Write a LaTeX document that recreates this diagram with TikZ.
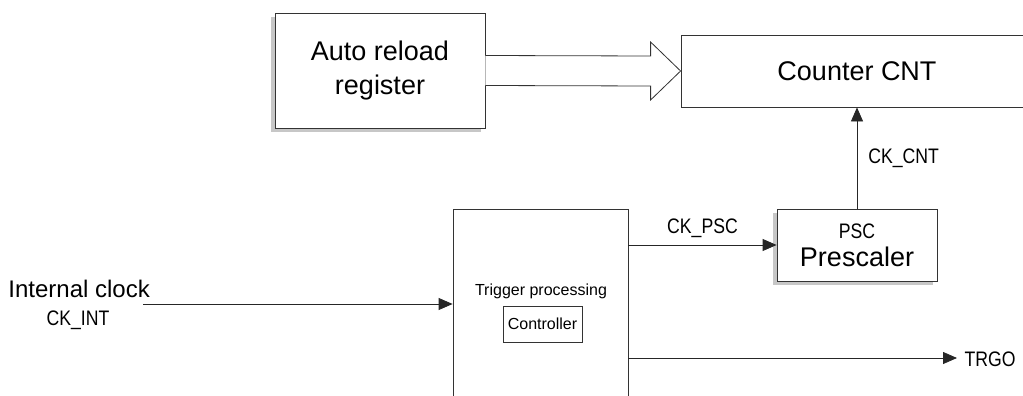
\documentclass[tikz,border=0pt]{standalone}
\usepackage{fontspec}
\setmainfont{Liberation Sans}
\newfontfamily\sigfont[FakeStretch=0.84]{Liberation Sans}
\usetikzlibrary{arrows.meta, positioning, calc, shadows}
\newcommand{\sigtext}[1]{{\sigfont\fontsize{21}{23}\selectfont #1}}

\begin{document}
\begin{tikzpicture}[x=1pt, y=-1pt, every node/.style={inner sep=0pt},
    blk/.style={draw=black!80, line width=0.8pt, fill=white, align=center,
                font=\fontsize{27}{34}\selectfont},
    boxshadow/.style={drop shadow={shadow xshift=-4pt, shadow yshift=-4pt,
                fill=black!40, opacity=0.55}},
    sig/.style={-{Triangle[length=14pt, width=12pt]}, line width=0.8pt, draw=black!85},
    lbl/.style={font=\sigfont\fontsize{21}{23}\selectfont},
    small/.style={font=\fontsize{16}{19}\selectfont}]
  \clip (0,0) rectangle (1023,396);

  % blocks
  \node[blk, boxshadow, minimum width=210pt, minimum height=115pt] (reload) at (380,70.5) {Auto reload\\register};
  \node[blk, minimum width=352pt, minimum height=72pt] (counter) at (857,71) {Counter CNT};
  \node[blk, minimum width=175pt, minimum height=211pt] (trig) at (540.5,314.5) {};
  \node[small] (trigname) at (541,291) {Trigger processing};
  \node[blk, small, minimum width=79pt, minimum height=36pt] (ctrl) at (542.5,324) {Controller};
  \node[blk, boxshadow, minimum width=160pt, minimum height=72pt] (psc) at (857,245) {\sigtext{PSC}\\[-6pt]Prescaler};

  % reload value into the counter
  \draw[draw=black!80, line width=0.8pt, fill=white]
    ($(reload.east)+(0,-15)$) -- ($(counter.west)+(-30,-15)$) -- ($(counter.west)+(-30,-29)$)
    -- (counter.west) -- ($(counter.west)+(-30,29)$) -- ($(counter.west)+(-30,15)$)
    -- ($(reload.east)+(0,15)$);

  % clock signals
  \coordinate (clkin) at (143,304);
  \node[anchor=base east, font=\fontsize{24}{28}\selectfont] (clkname) at (150,297) {Internal clock};
  \node[lbl] (clksig) at (78,320) {CK\_INT};
  \draw[sig] (clkin) -- (clkin -| trig.west);

  \draw[sig] (trig.east |- psc.west) -- (psc.west) node[lbl, midway, above=7pt] {CK\_PSC};
  \draw[sig] (psc.north) -- (counter.south) node[lbl, midway, right=11pt] {CK\_CNT};

  \coordinate (trgo) at (957,358);
  \draw[sig] (trig.east |- trgo) -- (trgo);
  \node[lbl] (trgoname) at (990,359) {TRGO};
\end{tikzpicture}
\end{document}
